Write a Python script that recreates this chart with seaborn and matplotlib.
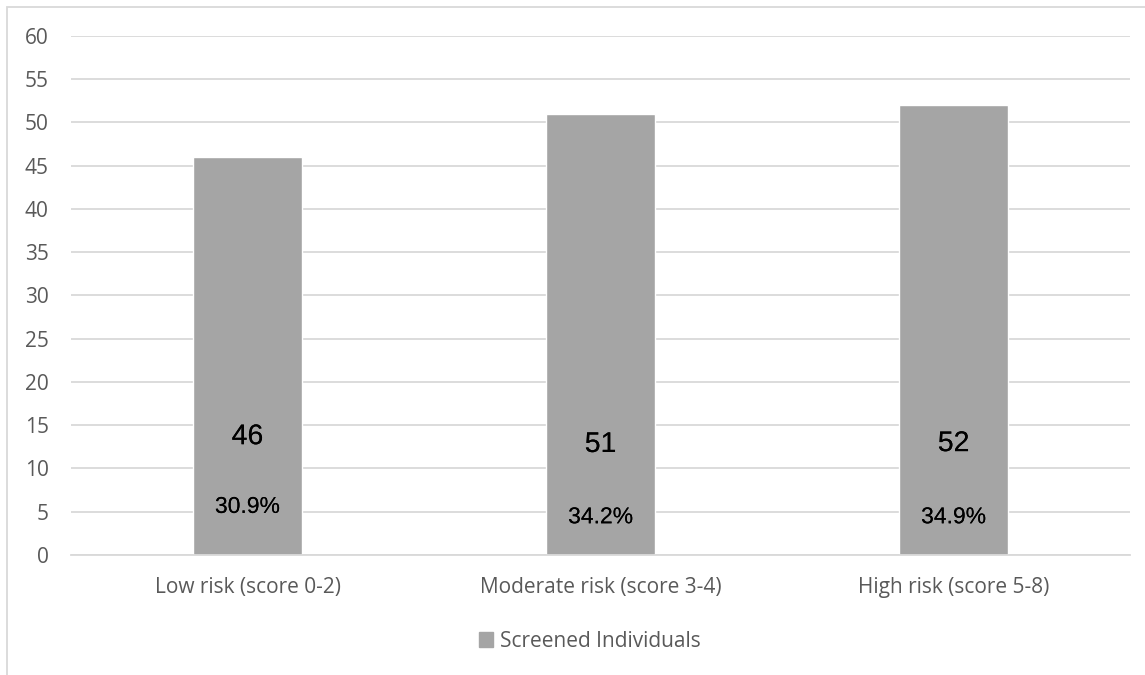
import matplotlib
matplotlib.use("Agg")
import matplotlib.pyplot as plt
import matplotlib.patches as mpatches
import matplotlib.patheffects as pe
import seaborn as sns
import pandas as pd

categories = ["Low risk (score 0-2)", "Moderate risk (score 3-4)", "High risk (score 5-8)"]
counts = [46, 51, 52]
percent_labels = ["30.9%", "34.2%", "34.9%"]
count_label_y = [13.6, 12.7, 12.8]
percent_label_y = [5.6, 4.4, 4.4]
series_name = "Screened Individuals"
yticks = [0, 5, 10, 15, 20, 25, 30, 35, 40, 45, 50, 55, 60]

sns.set_theme(style="white")
plt.rcParams['font.family'] = ['Open Sans', 'DejaVu Sans']

df = pd.DataFrame({"category": categories, "count": counts, "series": series_name})

fig = plt.figure(figsize=(11.45, 6.75), dpi=100)
ax = fig.add_axes([0.062, 0.178, 0.925, 0.769])

sns.barplot(data=df, x="category", y="count", hue="series", palette=["#a5a5a5"],
            width=0.31, ax=ax, legend=False, saturation=1)

ax.set_ylim(0, 60)
ax.set_yticks(yticks)
ax.set_xlim(-0.5, 2.5)
ax.yaxis.grid(True, color="#d9d9d9", linewidth=1.3)
ax.set_axisbelow(True)
for s in ["top", "right", "left"]:
    ax.spines[s].set_visible(False)
ax.spines["bottom"].set_color("#d9d9d9")
ax.spines["bottom"].set_linewidth(1.3)
ax.set_xlabel("")
ax.set_ylabel("")
ax.tick_params(axis="both", length=0, colors="#595959")
ax.tick_params(axis="y", pad=16, labelsize=15)
ax.tick_params(axis="x", pad=16, labelsize=15)

for i, (c, p) in enumerate(zip(counts, percent_labels)):
    t1 = ax.text(i, count_label_y[i], str(c), ha="center", va="center",
                 fontsize=20.5, color="black", family="Liberation Sans")
    t2 = ax.text(i, percent_label_y[i], p, ha="center", va="center",
                 fontsize=16.5, color="black", family="Liberation Sans")
    for t in (t1, t2):
        t.set_path_effects([pe.withStroke(linewidth=0, foreground="black")])

handle = mpatches.Patch(color="#a5a5a5", label=series_name)
fig.legend(handles=[handle], loc="center", bbox_to_anchor=(0.515, 0.050),
           frameon=False, fontsize=15, handlelength=0.7, handleheight=0.7,
           handletextpad=0.3, labelcolor="#595959")

frame = mpatches.Rectangle((7 / 1145, -0.5), 2, 0.5 + 1 - 7 / 675, transform=fig.transFigure,
                           fill=False, edgecolor="#d9d9d9", linewidth=1.3, clip_on=False)
fig.patches.append(frame)

fig.savefig("out.png", dpi=100)
